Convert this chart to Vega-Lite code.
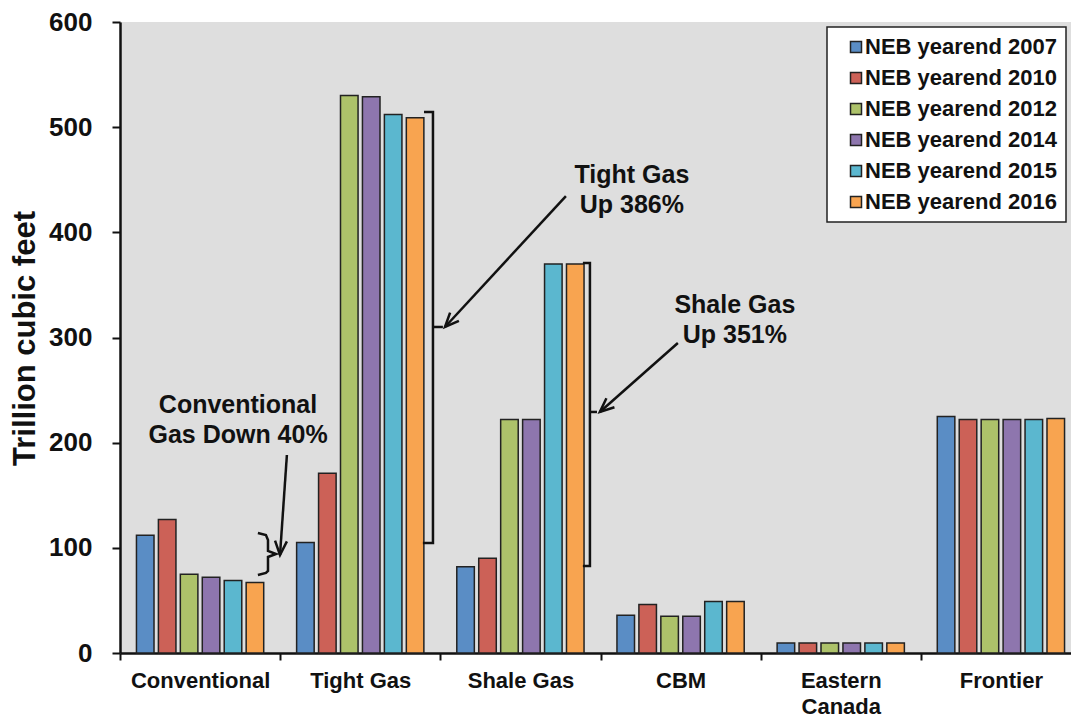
{
  "$schema": "https://vega.github.io/schema/vega-lite/v6.json",
  "width": 951,
  "height": 631,
  "autosize": {"type": "none"},
  "padding": {"left": 120, "top": 22, "right": 0, "bottom": 64},
  "background": "white",
  "config": {
    "view": {"stroke": null, "fill": "#DEDEDE"},
    "font": "Liberation Sans"
  },
  "datasets": {
    "bars": [
      {"cat": "Conventional", "series": "NEB yearend 2007", "value": 112},
      {"cat": "Conventional", "series": "NEB yearend 2010", "value": 127},
      {"cat": "Conventional", "series": "NEB yearend 2012", "value": 75},
      {"cat": "Conventional", "series": "NEB yearend 2014", "value": 72},
      {"cat": "Conventional", "series": "NEB yearend 2015", "value": 69},
      {"cat": "Conventional", "series": "NEB yearend 2016", "value": 67},
      {"cat": "Tight Gas", "series": "NEB yearend 2007", "value": 105},
      {"cat": "Tight Gas", "series": "NEB yearend 2010", "value": 171},
      {"cat": "Tight Gas", "series": "NEB yearend 2012", "value": 530},
      {"cat": "Tight Gas", "series": "NEB yearend 2014", "value": 529},
      {"cat": "Tight Gas", "series": "NEB yearend 2015", "value": 512},
      {"cat": "Tight Gas", "series": "NEB yearend 2016", "value": 509},
      {"cat": "Shale Gas", "series": "NEB yearend 2007", "value": 82},
      {"cat": "Shale Gas", "series": "NEB yearend 2010", "value": 90},
      {"cat": "Shale Gas", "series": "NEB yearend 2012", "value": 222},
      {"cat": "Shale Gas", "series": "NEB yearend 2014", "value": 222},
      {"cat": "Shale Gas", "series": "NEB yearend 2015", "value": 370},
      {"cat": "Shale Gas", "series": "NEB yearend 2016", "value": 370},
      {"cat": "CBM", "series": "NEB yearend 2007", "value": 36},
      {"cat": "CBM", "series": "NEB yearend 2010", "value": 46},
      {"cat": "CBM", "series": "NEB yearend 2012", "value": 35},
      {"cat": "CBM", "series": "NEB yearend 2014", "value": 35},
      {"cat": "CBM", "series": "NEB yearend 2015", "value": 49},
      {"cat": "CBM", "series": "NEB yearend 2016", "value": 49},
      {"cat": "Eastern Canada", "series": "NEB yearend 2007", "value": 9.5},
      {"cat": "Eastern Canada", "series": "NEB yearend 2010", "value": 9.5},
      {"cat": "Eastern Canada", "series": "NEB yearend 2012", "value": 9.5},
      {"cat": "Eastern Canada", "series": "NEB yearend 2014", "value": 9.5},
      {"cat": "Eastern Canada", "series": "NEB yearend 2015", "value": 9.5},
      {"cat": "Eastern Canada", "series": "NEB yearend 2016", "value": 9.5},
      {"cat": "Frontier", "series": "NEB yearend 2007", "value": 225},
      {"cat": "Frontier", "series": "NEB yearend 2010", "value": 222},
      {"cat": "Frontier", "series": "NEB yearend 2012", "value": 222},
      {"cat": "Frontier", "series": "NEB yearend 2014", "value": 222},
      {"cat": "Frontier", "series": "NEB yearend 2015", "value": 222},
      {"cat": "Frontier", "series": "NEB yearend 2016", "value": 223}
    ],
    "ann": [
      {"path": "tightBracket", "k": 0, "gx": 1.898, "value": 514.4},
      {"path": "tightBracket", "k": 1, "gx": 1.954, "value": 514.4},
      {"path": "tightBracket", "k": 2, "gx": 1.954, "value": 104.6},
      {"path": "tightBracket", "k": 3, "gx": 1.891, "value": 104.6},
      {"path": "tightNub", "k": 0, "gx": 1.954, "value": 310},
      {"path": "tightNub", "k": 1, "gx": 2.016, "value": 310},
      {"path": "tightArrow", "k": 0, "gx": 2.784, "value": 434.5},
      {"path": "tightArrow", "k": 1, "gx": 2.029, "value": 310},
      {"path": "tightHead", "k": 0, "gx": 2.061, "value": 323.7},
      {"path": "tightHead", "k": 1, "gx": 2.029, "value": 310},
      {"path": "tightHead", "k": 2, "gx": 2.116, "value": 315.9},
      {"path": "shaleBracket", "k": 0, "gx": 2.890, "value": 370.8},
      {"path": "shaleBracket", "k": 1, "gx": 2.934, "value": 370.8},
      {"path": "shaleBracket", "k": 2, "gx": 2.934, "value": 82.7},
      {"path": "shaleBracket", "k": 3, "gx": 2.890, "value": 82.7},
      {"path": "shaleNub", "k": 0, "gx": 2.934, "value": 229.2},
      {"path": "shaleNub", "k": 1, "gx": 2.978, "value": 229.2},
      {"path": "shaleArrow", "k": 0, "gx": 3.483, "value": 294.8},
      {"path": "shaleArrow", "k": 1, "gx": 2.996, "value": 229.2},
      {"path": "shaleHead", "k": 0, "gx": 3.087, "value": 233.7},
      {"path": "shaleHead", "k": 1, "gx": 2.996, "value": 229.2},
      {"path": "shaleHead", "k": 2, "gx": 3.037, "value": 242.3},
      {"path": "convBrace", "k": 0, "gx": 0.861, "value": 114.1},
      {"path": "convBrace", "k": 1, "gx": 0.911, "value": 112.2},
      {"path": "convBrace", "k": 2, "gx": 0.924, "value": 107.4},
      {"path": "convBrace", "k": 3, "gx": 0.924, "value": 97.0},
      {"path": "convBrace", "k": 4, "gx": 0.974, "value": 94.1},
      {"path": "convBrace", "k": 5, "gx": 0.924, "value": 91.3},
      {"path": "convBrace", "k": 6, "gx": 0.924, "value": 78.0},
      {"path": "convBrace", "k": 7, "gx": 0.911, "value": 76.1},
      {"path": "convBrace", "k": 8, "gx": 0.861, "value": 74.2},
      {"path": "convArrow", "k": 0, "gx": 1.042, "value": 188.3},
      {"path": "convArrow", "k": 1, "gx": 0.999, "value": 93.2},
      {"path": "convHead", "k": 0, "gx": 1.042, "value": 106.1},
      {"path": "convHead", "k": 1, "gx": 0.999, "value": 93.2},
      {"path": "convHead", "k": 2, "gx": 0.968, "value": 106.9}
    ],
    "labels": [
      {"line": "Tight Gas", "gx": 3.196, "value": 454.5},
      {"line": "Up 386%", "gx": 3.196, "value": 426},
      {"line": "Shale Gas", "gx": 3.839, "value": 330.9},
      {"line": "Up 351%", "gx": 3.839, "value": 302.4},
      {"line": "Conventional", "gx": 0.737, "value": 235.8},
      {"line": "Gas Down 40%", "gx": 0.737, "value": 207.3}
    ]
  },
  "encoding": {
    "y": {
      "field": "value",
      "type": "quantitative",
      "scale": {"domain": [0, 600], "nice": false, "zero": true},
      "axis": {
        "title": "Trillion cubic feet",
        "values": [0, 100, 200, 300, 400, 500, 600],
        "grid": false,
        "domainColor": "#111",
        "domainWidth": 2.5,
        "tickColor": "#111",
        "tickWidth": 2,
        "tickSize": 8,
        "labelFont": "Liberation Sans",
        "labelFontWeight": "bold",
        "labelFontSize": 26,
        "labelColor": "#111",
        "labelPadding": 20,
        "titleFont": "Liberation Sans",
        "titleFontWeight": "bold",
        "titleFontSize": 31,
        "titleColor": "#111",
        "titleAngle": -90,
        "titleX": -95,
        "titleY": 316,
        "titleAlign": "center",
        "titleBaseline": "middle"
      }
    }
  },
  "layer": [
    {
      "data": {"name": "bars"},
      "mark": {"type": "bar", "stroke": "#222", "strokeWidth": 1.5},
      "encoding": {
        "x": {
          "field": "cat",
          "type": "nominal",
          "sort": ["Conventional", "Tight Gas", "Shale Gas", "CBM", "Eastern Canada", "Frontier"],
          "scale": {"range": [0, 961], "paddingInner": 0, "paddingOuter": 0},
          "axis": {
            "title": null,
            "labelAngle": 0,
            "tickBand": "extent",
            "domainColor": "#111",
            "domainWidth": 2.5,
            "tickColor": "#111",
            "tickWidth": 2,
            "tickSize": 7,
            "labelFont": "Liberation Sans",
            "labelFontWeight": "bold",
            "labelFontSize": 22,
            "labelColor": "#111",
            "labelPadding": 10,
            "labelBaseline": "top",
            "labelLineHeight": 26,
            "labelExpr": "datum.label == 'Eastern Canada' ? ['Eastern', 'Canada'] : datum.label"
          }
        },
        "xOffset": {
          "field": "series",
          "type": "nominal",
          "scale": {"paddingInner": 0.2, "paddingOuter": 0.75}
        },
        "color": {
          "field": "series",
          "type": "nominal",
          "scale": {
            "domain": ["NEB yearend 2007", "NEB yearend 2010", "NEB yearend 2012", "NEB yearend 2014", "NEB yearend 2015", "NEB yearend 2016"],
            "range": ["#5A8DC5", "#CC6157", "#ADC26A", "#8E76AE", "#5BB7CF", "#F8A450"]
          },
          "legend": {
            "title": null,
            "orient": "none",
            "legendX": 707,
            "legendY": 5,
            "fillColor": "white",
            "strokeColor": "#222",
            "padding": 9,
            "symbolType": "square",
            "symbolSize": 121,
            "symbolStrokeColor": "#222",
            "symbolStrokeWidth": 1.5,
            "symbolOpacity": 1,
            "symbolOffset": 9,
            "labelFont": "Liberation Sans",
            "labelFontWeight": "bold",
            "labelFontSize": 22,
            "labelColor": "#111",
            "labelOffset": -2,
            "labelLimit": 400,
            "rowPadding": 9,
            "encode": {"legend": {"update": {"strokeWidth": {"value": 1.5}}}}
          }
        }
      }
    },
    {
      "data": {"name": "ann"},
      "mark": {"type": "line", "color": "#111", "strokeWidth": 2.5, "strokeCap": "butt", "strokeJoin": "miter"},
      "encoding": {
        "x": {"field": "gx", "type": "quantitative", "scale": {"domain": [0, 6], "range": [0, 961], "nice": false, "zero": false}, "axis": null},
        "detail": {"field": "path", "type": "nominal"},
        "order": {"field": "k", "type": "quantitative"}
      }
    },
    {
      "data": {"name": "labels"},
      "mark": {"type": "text", "font": "Liberation Sans", "fontWeight": "bold", "fontSize": 25, "color": "#111", "align": "center", "baseline": "middle"},
      "encoding": {
        "x": {"field": "gx", "type": "quantitative", "scale": {"domain": [0, 6], "range": [0, 961], "nice": false, "zero": false}, "axis": null},
        "text": {"field": "line", "type": "nominal"}
      }
    },
    {
      "mark": {"type": "rule", "color": "#444", "strokeWidth": 2},
      "encoding": {"y": {"datum": 600}}
    }
  ],
  "resolve": {"scale": {"x": "independent"}}
}
